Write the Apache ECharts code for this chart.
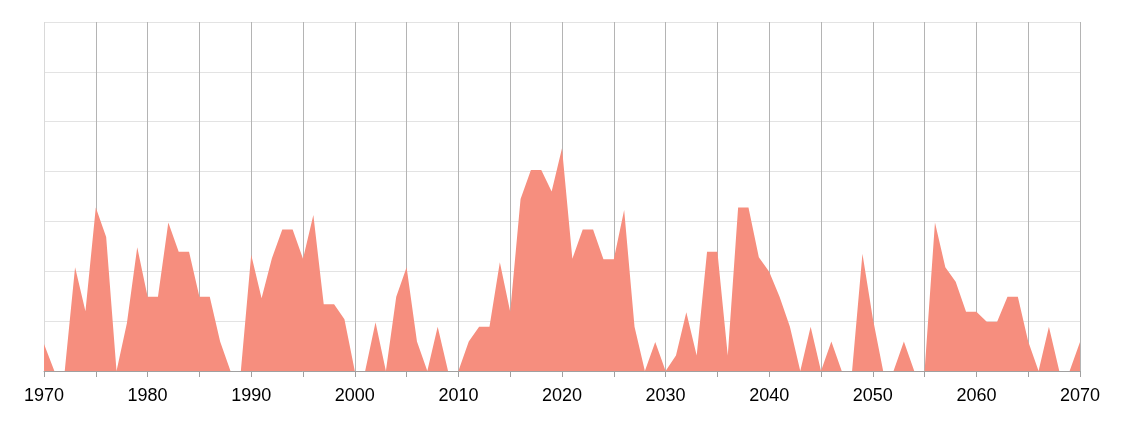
<!DOCTYPE html>
<html>
<head>
<meta charset="utf-8">
<script src="https://cdn.jsdelivr.net/npm/echarts@6/dist/echarts.min.js"></script>
<style>html,body{margin:0;padding:0;background:#fff}#c{width:1124px;height:423px}</style>
</head>
<body>
<div id="c"></div>
<script>
const years = [];
for (let y = 1970; y <= 2070; y++) years.push(y);
const values = [
  5.4, 0, 0, 20.8, 12.0, 32.8, 26.9, 0, 9.6, 24.8,
  14.9, 14.9, 29.8, 23.9, 23.9, 14.9, 14.9, 5.9, 0, 0,
  23.3, 14.6, 22.6, 28.4, 28.4, 22.5, 31.3, 13.4, 13.4, 10.4,
  0, 0, 9.8, 0, 14.9, 20.8, 5.9, 0, 8.9, 0,
  0, 5.9, 8.9, 8.9, 21.8, 11.9, 34.5, 40.3, 40.3, 36.0,
  44.7, 22.5, 28.4, 28.4, 22.4, 22.4, 32.3, 8.9, 0, 5.8,
  0, 3.1, 11.8, 3.1, 23.9, 23.9, 3.1, 32.8, 32.8, 22.8,
  19.9, 14.9, 8.9, 0, 8.9, 0, 5.9, 0, 0, 23.5,
  10.6, 0, 0, 5.9, 0, 0, 29.8, 20.8, 17.9, 11.9,
  11.9, 9.9, 9.9, 14.9, 14.9, 5.9, 0, 8.9, 0, 0,
  5.8
];
const tickLabels = ['1970','1980','1990','2000','2010','2020','2030','2040','2050','2060','2070'];

const vColors = [];
for (let i = 0; i < 21; i++) vColors.push(i === 0 ? '#d9d9d9' : '#b4b4b4');

const chart = echarts.init(document.getElementById('c'));
chart.setOption({
  animation: false,
  grid: { left: 44, right: 44, top: 22, bottom: 52, containLabel: false },
  xAxis: {
    type: 'value', min: 1970, max: 2070, interval: 5,
    axisLine: { show: true, lineStyle: { color: '#a0a0a0', width: 1 } },
    axisTick: { show: true, length: 6, lineStyle: { color: '#a0a0a0' } },
    axisLabel: {
      color: '#000', fontSize: 18, fontFamily: 'Liberation Sans', margin: 16,
      formatter: v => tickLabels.includes(String(v)) ? String(v) : ''
    },
    splitLine: { show: true, lineStyle: { color: vColors, width: 1 } }
  },
  yAxis: {
    type: 'value', min: 0, max: 70, interval: 10,
    axisLine: { show: false }, axisTick: { show: false }, axisLabel: { show: false },
    splitLine: { show: true, lineStyle: { color: '#e3e3e3', width: 1 } }
  },
  series: [{
    type: 'line',
    data: years.map((y, i) => [y, values[i]]),
    symbol: 'none',
    lineStyle: { width: 0 },
    areaStyle: { color: '#F68E7E', opacity: 1 }
  }]
});
</script>
</body>
</html>
